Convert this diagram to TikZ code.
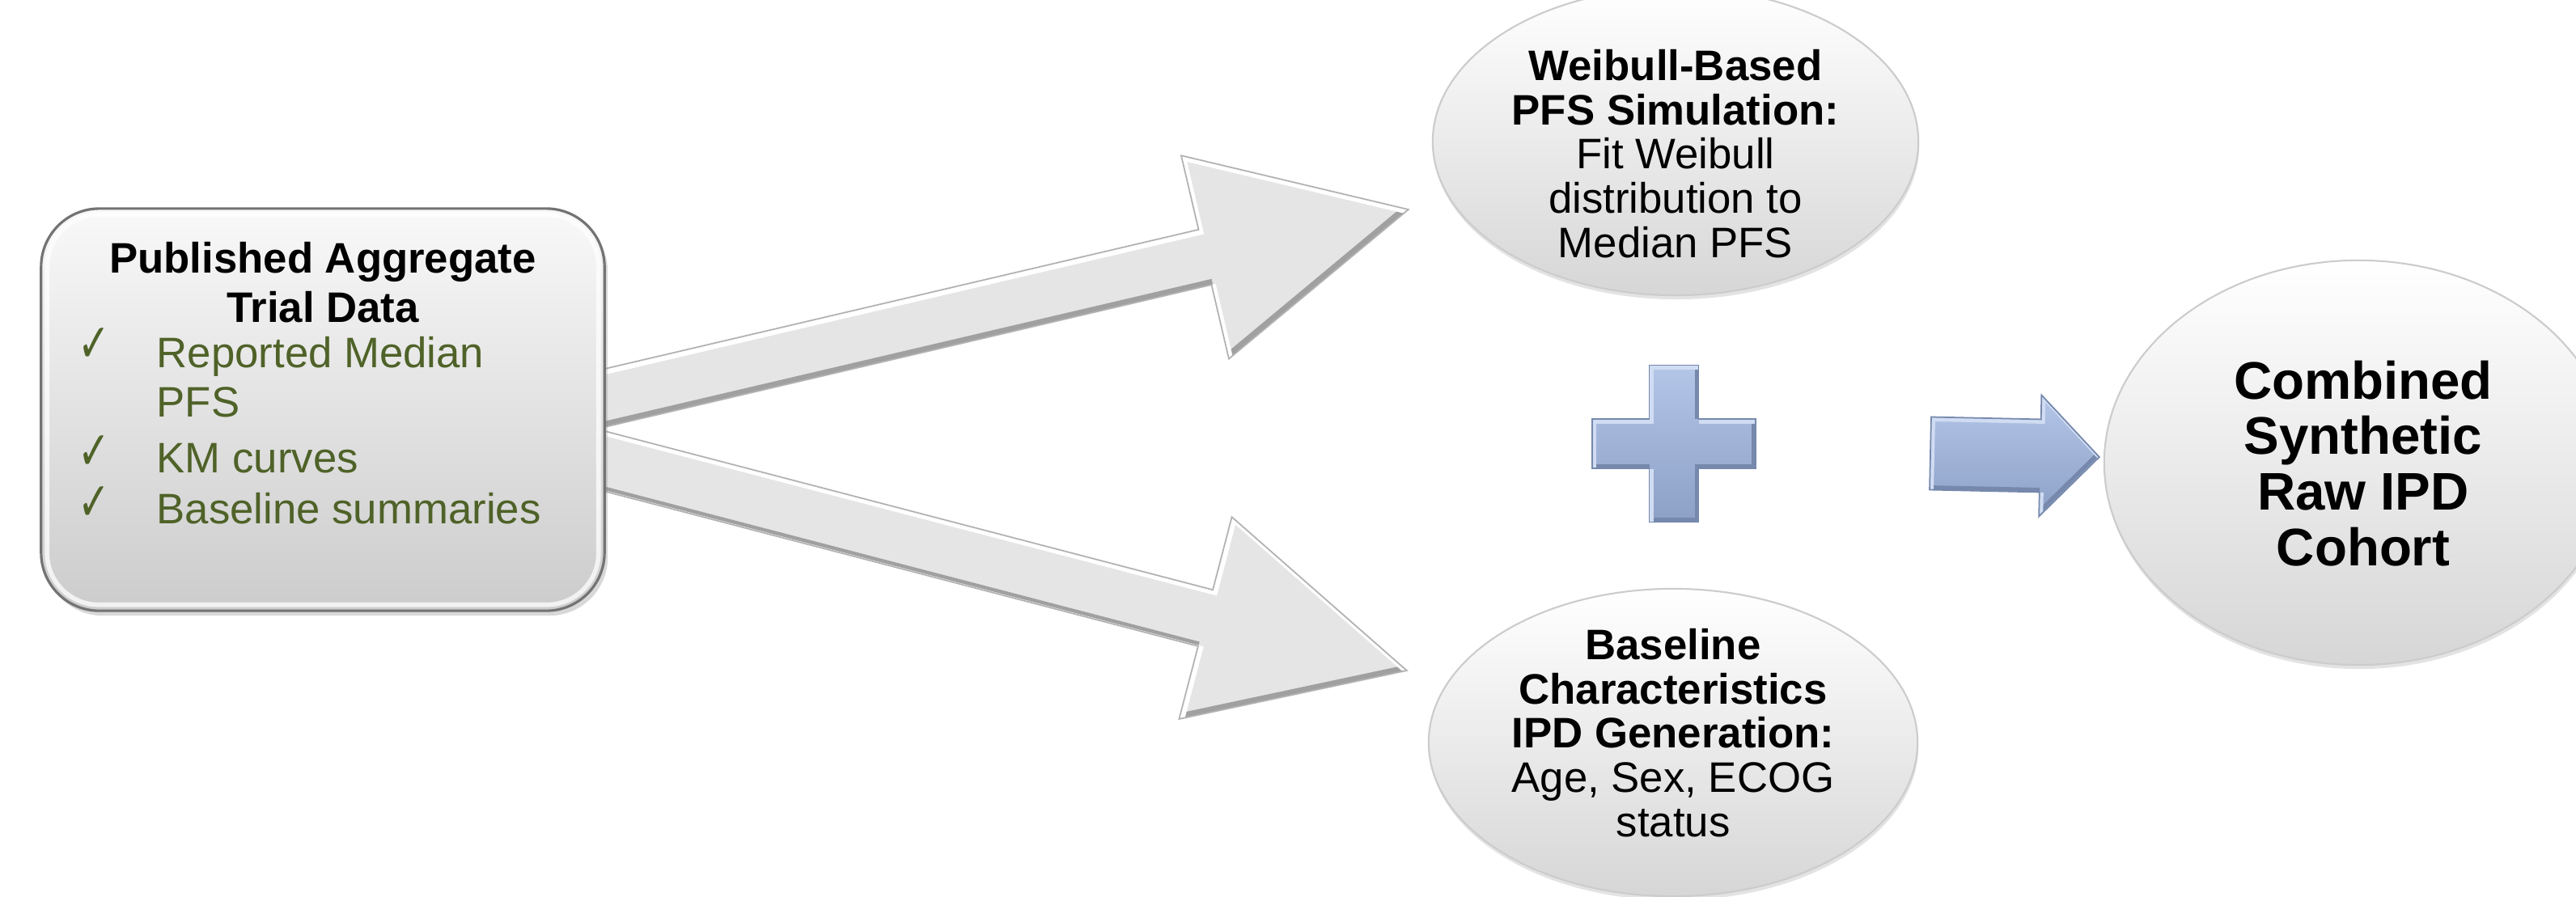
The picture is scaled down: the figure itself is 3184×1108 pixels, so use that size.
\documentclass[tikz,border=0pt]{standalone}
\usepackage{fontspec}
\setmainfont{Liberation Sans}
\newfontfamily\symfont{DejaVu Sans}
\usetikzlibrary{calc,shapes.geometric,shadows}
\pgfdeclarelayer{bottom}
\pgfdeclarelayer{background}
\pgfsetlayers{bottom,background,main}
\definecolor{olivetext}{RGB}{79,98,40}
\definecolor{boxborder}{RGB}{115,115,115}
\definecolor{arrowfill}{RGB}{229,229,229}
\definecolor{arrowdark}{RGB}{160,160,160}
\definecolor{bluetop}{RGB}{180,198,232}
\definecolor{bluebot}{RGB}{140,160,198}
\definecolor{bluedark}{RGB}{118,136,172}
\definecolor{bluelight}{RGB}{208,220,242}

% corner points of a fat arrow: #1 prefix, #2 tail, #3 tip, #4 head length, #5 head half width, #6 shaft half width
\newcommand\fatarrowcoords[6]{%
  \coordinate (#1b) at ($(#3)!#4!(#2)$);
  \coordinate (#1t1) at ($(#2)!#6!90:(#3)$);
  \coordinate (#1t2) at ($(#2)!#6!-90:(#3)$);
  \coordinate (#1s1) at ($(#1b)!#6!90:(#3)$);
  \coordinate (#1s2) at ($(#1b)!#6!-90:(#3)$);
  \coordinate (#1h1) at ($(#1b)!#5!90:(#3)$);
  \coordinate (#1h2) at ($(#1b)!#5!-90:(#3)$);
}
\newcommand\fatpath[2]{(#1t1) -- (#1s1) -- (#1h1) -- (#2) -- (#1h2) -- (#1s2) -- (#1t2) -- cycle}
% bevelled shape: #1 path, #2 fill options, #3 dark edge, #4 light edge, #5 outline options, #6 band width
\newcommand\bevelled[6]{%
  \path[#2] #1;
  \begin{scope}
    \clip #1;
    \begin{scope}[transform canvas={shift={(-0.025cm,0.03cm)}}]
      \draw[#3, line width=#6] #1;
    \end{scope}
    \begin{scope}[transform canvas={shift={(0.025cm,-0.03cm)}}]
      \draw[#4, line width=#6] #1;
    \end{scope}
  \end{scope}
  \draw[#5] #1;
}

\begin{document}
\begin{tikzpicture}[x=0.01cm, y=-0.01cm,
  srcbox/.style={rounded corners=0.72cm, minimum width=6.96cm, minimum height=4.97cm,
    inner sep=0, draw=boxborder, line width=0.9pt, top color=gray!5, bottom color=gray!40,
    drop shadow={opacity=0.3, shadow xshift=0.04cm, shadow yshift=-0.06cm}},
  bubble/.style={ellipse, inner sep=0, draw=gray!40, line width=0.6pt,
    top color=white, bottom color=gray!32,
    drop shadow={opacity=0.22, shadow xshift=0.01cm, shadow yshift=-0.05cm}},
  headtxt/.style={font=\bfseries\fontsize{15}{17.4}\selectfont, align=center, inner sep=0},
  itemtxt/.style={font=\fontsize{15}{17.4}\selectfont, text=olivetext, anchor=mid west, inner sep=0},
  chk/.style={font=\symfont\fontsize{18}{18}\selectfont, text=olivetext, anchor=mid, inner sep=0},
  bubtxt/.style={font=\fontsize{15}{15.6}\selectfont, align=center, inner sep=0},
  bigtxt/.style={font=\bfseries\fontsize{18.6}{19.6}\selectfont, align=center, inner sep=0},
  grayfill/.style={fill=arrowfill},
  grayline/.style={draw=gray!60, line width=0.5pt},
  bluefill/.style={top color=bluetop, bottom color=bluebot},
  blueline/.style={draw=bluedark, line width=0.5pt}
]
\begin{pgfonlayer}{bottom}
\fill[white] (0,0) rectangle (3184,1108);
\end{pgfonlayer}
\clip (0,0) rectangle (3184,1108);

% main shapes
\node[srcbox] (src) at (399,506.5) {};
\draw[white, opacity=0.75, line width=1.6pt, rounded corners=0.64cm]
  ($(src.north west)+(9,9)$) rectangle ($(src.south east)+(-9,-9)$);
\node[bubble, minimum width=6cm, minimum height=3.8cm] (weib) at (2071,175) {};
\node[bubble, minimum width=6.04cm, minimum height=3.8cm] (base) at (2068,918) {};
\node[bubble, minimum width=6.28cm, minimum height=5cm] (comb) at (2915,572) {};

% texts
\node[headtxt] (srctitle) at (399,349) {Published Aggregate\\Trial Data};
\node[chk] (c1) at (116,438) {\scalebox{0.75}[1.05]{✓}};
\node[itemtxt] (i1) at (193,445) {Reported Median};
\node[itemtxt] (i1b) at (193,506) {PFS};
\node[chk] (c2) at (116,571) {\scalebox{0.75}[1.05]{✓}};
\node[itemtxt] (i2) at (193,575) {KM curves};
\node[chk] (c3) at (116,634) {\scalebox{0.75}[1.05]{✓}};
\node[itemtxt] (i3) at (193,638) {Baseline summaries};

\node[bubtxt] (weibtxt) at (2071,190)
  {\textbf{Weibull-Based}\\\textbf{PFS Simulation:}\\Fit Weibull\\distribution to\\Median PFS};
\node[bubtxt] (basetxt) at (2068,906)
  {\textbf{Baseline}\\\textbf{Characteristics}\\\textbf{IPD Generation:}\\Age, Sex, ECOG\\status};
\node[bigtxt] (combtxt) at (2921,573) {Combined\\Synthetic\\Raw IPD\\Cohort};

% plus sign
\coordinate (pl) at (2069,548.5);
\bevelled{($(pl)+(-101,-30.5)$) -- ++(70.5,0) -- ++(0,-66.5) -- ++(61,0) -- ++(0,66.5)
  -- ++(70.5,0) -- ++(0,61) -- ++(-70.5,0) -- ++(0,66.5) -- ++(-61,0) -- ++(0,-66.5)
  -- ++(-70.5,0) -- cycle}{bluefill}{bluedark}{bluelight}{blueline}{0.05cm}

% blue arrow into the combined cohort
\coordinate (bt) at ($(pl)+(317,12)$);
\coordinate (bh) at ($(comb.west)+(-5,-7)$);
\fatarrowcoords{k}{bt}{bh}{0.73cm}{0.75cm}{0.45cm}
\bevelled{\fatpath{k}{bh}}{bluefill}{bluedark}{bluelight}{blueline}{0.05cm}

% big grey arrows from the source box
\begin{pgfonlayer}{background}
\coordinate (lt) at ($(src.east)+(-27,57)$);
\coordinate (lh) at ($(base.west)+(-26,-89)$);
\fatarrowcoords{l}{lt}{lh}{2.57cm}{1.29cm}{0.36cm}
\bevelled{\fatpath{l}{lh}}{grayfill}{arrowdark}{white}{grayline}{0.07cm}
\coordinate (ut) at ($(src.east)+(-27,-8.5)$);
\coordinate (uh) at ($(weib.west)+(-29,84)$);
\fatarrowcoords{u}{ut}{uh}{2.58cm}{1.29cm}{0.35cm}
\bevelled{\fatpath{u}{uh}}{grayfill}{arrowdark}{white}{grayline}{0.07cm}
\end{pgfonlayer}
\end{tikzpicture}
\end{document}
